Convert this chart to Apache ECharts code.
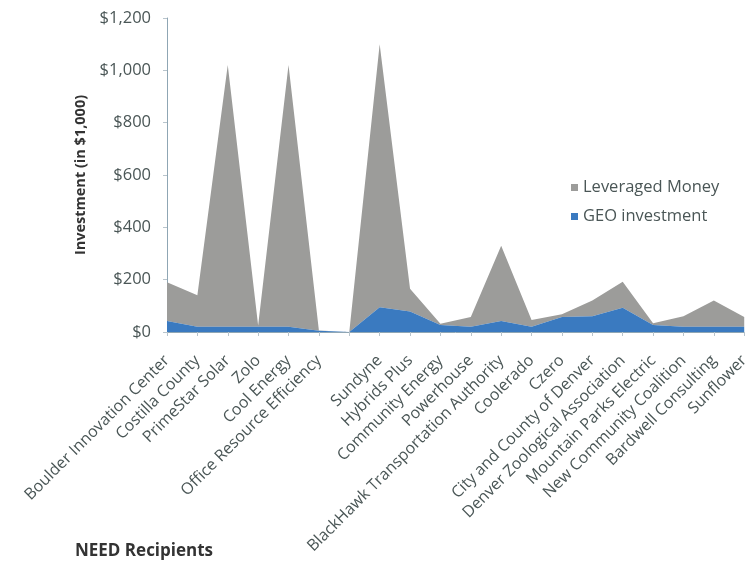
<!DOCTYPE html>
<html>
<head>
<meta charset="utf-8">
<script src="https://cdn.jsdelivr.net/npm/echarts@6/dist/echarts.min.js"></script>
<style>
  html, body { margin: 0; padding: 0; background: #fff; }
  #chart { width: 752px; height: 563px; }
</style>
</head>
<body>
<div id="chart"></div>
<script>
// categories (one empty slot between Office Resource Efficiency and Sundyne)
var recipients = [
    'Boulder Innovation Center', 'Costilla County', 'PrimeStar Solar', 'Zolo', 'Cool Energy',
    'Office Resource Efficiency', '', 'Sundyne', 'Hybrids Plus', 'Community Energy',
    'Powerhouse', 'BlackHawk Transportation Authority', 'Coolerado', 'Czero',
    'City and County of Denver', 'Denver Zoological Association', 'Mountain Parks Electric',
    'New Community Coalition', 'Bardwell Consulting', 'Sunflower'
]

// GEO investment (bottom of the stack, in $1,000)
var geoInvestment = [42, 20, 20, 20, 20, 5, 0, 95, 78, 27, 20, 42, 20, 57, 60, 93, 27, 20, 20, 20]

// leveraged money (stacked on top of GEO, in $1,000)
var leveragedMoney = [148, 120, 1000, 5, 1000, 1, 0, 1005, 87, 5, 37, 288, 26, 11, 60, 99, 6, 40, 100, 37]

// y axis ticks
var yMin = 0, yMax = 1200, yStep = 200

var font = '"Open Sans", "DejaVu Sans", sans-serif'

var chart = echarts.init(document.getElementById('chart'))
chart.setOption({
    animation: false,
    grid: {
        left: 167,
        right: 2,
        top: 18,
        bottom: 231
    },
    legend: {
        data: ['Leveraged Money', 'GEO investment'],
        orient: 'vertical',
        left: 566,
        top: 174,
        itemWidth: 7,
        itemHeight: 7,
        itemGap: 12,
        icon: 'rect',
        textStyle: { fontFamily: font, fontSize: 16.5, color: '#4a5656' }
    },
    xAxis: {
        type: 'category',
        data: recipients,
        boundaryGap: false,
        axisLine: { lineStyle: { color: '#8fa6b4', width: 1 } },
        axisTick: { show: true, length: 4, lineStyle: { color: '#b8c4cc' } },
        axisLabel: {
            interval: 0,
            rotate: 45,
            margin: 26,
            fontFamily: font,
            fontSize: 16,
            color: '#4a5656'
        }
    },
    yAxis: {
        type: 'value',
        min: yMin,
        max: yMax,
        interval: yStep,
        name: 'Investment (in $1,000)',
        nameLocation: 'middle',
        nameRotate: 90,
        nameGap: 68,
        nameTextStyle: { fontFamily: font, fontSize: 14.5, fontWeight: 'bold', color: '#333' },
        splitLine: { show: false },
        axisLine: { show: true, lineStyle: { color: '#8fa6b4', width: 1 } },
        axisTick: { show: true, length: 4, lineStyle: { color: '#b8c4cc' } },
        axisLabel: {
            margin: 16,
            fontFamily: font,
            fontSize: 16.5,
            color: '#4a5656',
            formatter: function (v) {
                return '$' + v.toLocaleString('en-US')
            }
        }
    },
    series: [
        {
            name: 'GEO investment',
            type: 'line',
            stack: 'total',
            data: geoInvestment,
            showSymbol: false,
            lineStyle: { width: 0 },
            itemStyle: { color: '#3a7ac0' },
            areaStyle: { color: '#3a7ac0', opacity: 1 },
            z: 3
        },
        {
            name: 'Leveraged Money',
            type: 'line',
            stack: 'total',
            data: leveragedMoney,
            showSymbol: false,
            lineStyle: { width: 0 },
            itemStyle: { color: '#9c9c9a' },
            areaStyle: { color: '#9c9c9a', opacity: 1 },
            z: 2
        }
    ],
    graphic: [
        {
            type: 'text',
            left: 75,
            top: 543,
            style: {
                text: 'NEED Recipients',
                font: 'bold 17px ' + font,
                fill: '#333'
            }
        }
    ]
})
</script>
</body>
</html>
